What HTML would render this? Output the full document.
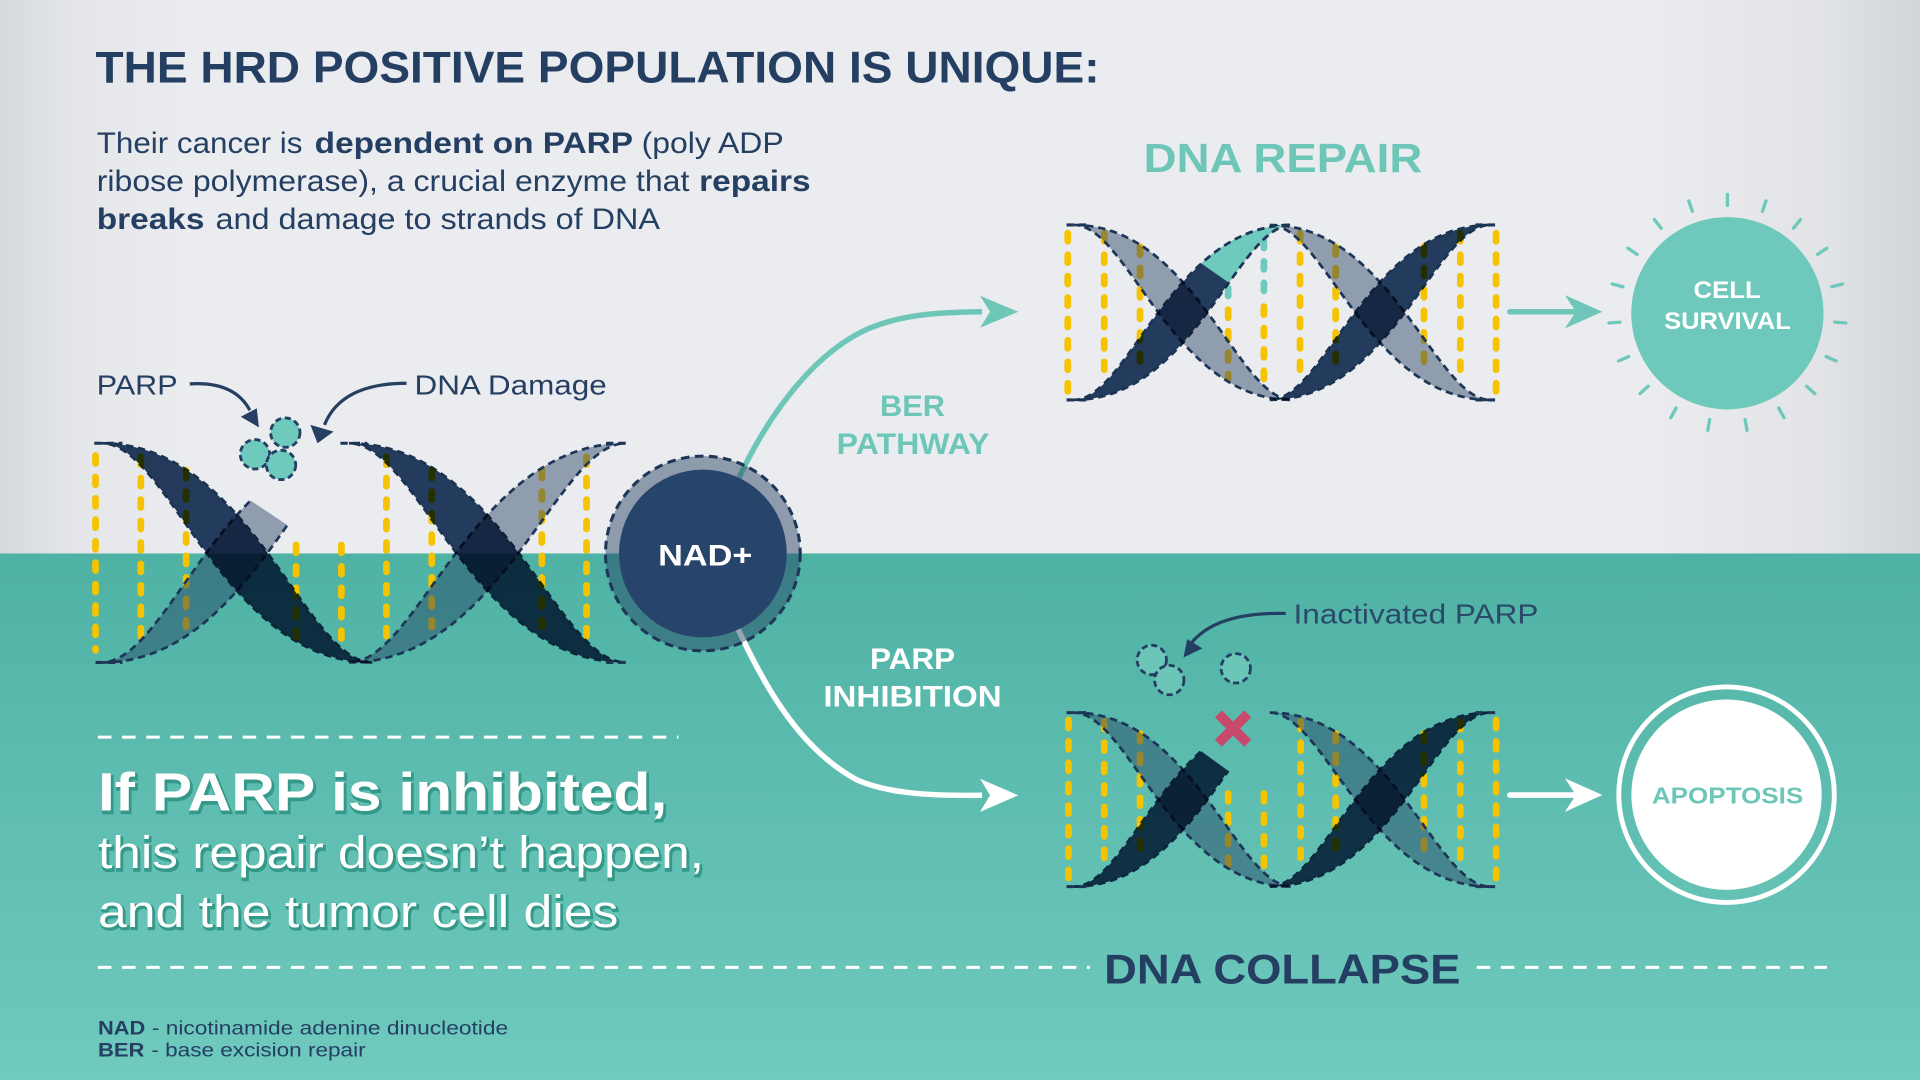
<!DOCTYPE html>
<html>
<head>
<meta charset="utf-8">
<style>
html,body{margin:0;padding:0;background:#eaecef;}
svg{display:block;}
text{font-family:"Liberation Sans",Arial,sans-serif;}
.rung{stroke:#f5c300;stroke-width:5.5;stroke-linecap:round;stroke-dasharray:6.5 11;fill:none;}
.dk{fill:#263f62;mix-blend-mode:multiply;stroke:#1d3657;stroke-width:2.2;stroke-dasharray:6 4;}
.lt{fill:rgba(36,63,98,0.46);stroke:#1d3657;stroke-width:2.2;stroke-dasharray:6 4;}
.dl{stroke:#1d3657;stroke-width:2.5;stroke-dasharray:6 4;fill:none;}
.pc{fill:#6ecabd;stroke:#253f63;stroke-width:2.3;stroke-dasharray:5 3;}
.ray{stroke:#6ec8bb;stroke-width:2.7;stroke-linecap:round;}
</style>
</head>
<body>
<svg xmlns="http://www.w3.org/2000/svg" width="1920" height="1080" viewBox="0 0 1568 882" preserveAspectRatio="none">
<defs>
<linearGradient id="gt" x1="0" x2="1" y1="0" y2="0">
<stop offset="0" stop-color="#d6d9dd"/>
<stop offset="0.04" stop-color="#e4e6e9"/>
<stop offset="0.1" stop-color="#eaecef"/>
<stop offset="0.86" stop-color="#eaecef"/>
<stop offset="0.95" stop-color="#e1e3e6"/>
<stop offset="1" stop-color="#d2d5d9"/>
</linearGradient>
<linearGradient id="gb" x1="0" x2="0" y1="0" y2="1">
<stop offset="0" stop-color="#4eb2a4"/>
<stop offset="1" stop-color="#70cabe"/>
</linearGradient>
<clipPath id="cut1"><polygon points="0,272.3 600,672.5 600,900 0,900"/></clipPath>
<clipPath id="tealc"><polygon points="850,123.4 1250,403.4 1250,0 850,0"/></clipPath>
<clipPath id="cut2"><polygon points="850,518.4 1250,808.8 1250,900 850,900"/></clipPath>
</defs>

<!-- backgrounds -->
<rect x="0" y="0" width="1568" height="452" fill="url(#gt)"/>
<rect x="0" y="452" width="1568" height="430" fill="url(#gb)"/>

<!-- Title -->
<text x="78" y="67.5" font-size="36" font-weight="bold" fill="#253f63" textLength="820" lengthAdjust="spacingAndGlyphs">THE HRD POSITIVE POPULATION IS UNIQUE:</text>

<!-- Paragraph -->
<g font-size="24" fill="#253f63">
<text x="79" y="125" textLength="168" lengthAdjust="spacingAndGlyphs">Their cancer is</text>
<text x="257" y="125" font-weight="bold" textLength="260" lengthAdjust="spacingAndGlyphs">dependent on PARP</text>
<text x="524" y="125" textLength="116" lengthAdjust="spacingAndGlyphs">(poly ADP</text>
<text x="79" y="156" textLength="484" lengthAdjust="spacingAndGlyphs">ribose polymerase), a crucial enzyme that</text>
<text x="571" y="156" font-weight="bold" textLength="91" lengthAdjust="spacingAndGlyphs">repairs</text>
<text x="79" y="187" font-weight="bold" textLength="88" lengthAdjust="spacingAndGlyphs">breaks</text>
<text x="176" y="187" textLength="363" lengthAdjust="spacingAndGlyphs">and damage to strands of DNA</text>
</g>

<!-- PARP / DNA Damage labels -->
<text x="79" y="322" font-size="23" fill="#253f63" textLength="66" lengthAdjust="spacingAndGlyphs">PARP</text>
<text x="338.5" y="322" font-size="23" fill="#253f63" textLength="157" lengthAdjust="spacingAndGlyphs">DNA Damage</text>
<path d="M155,313.5 C180,312 196,320 204,335" fill="none" stroke="#253f63" stroke-width="2.6"/>
<polygon points="211.5,349 196.6,340.3 209.7,333.5" fill="#253f63"/>
<path d="M332,313 C300,313 275,322 265,347" fill="none" stroke="#253f63" stroke-width="2.6"/>
<polygon points="259.3,362 253.5,347 272.4,352.5" fill="#253f63"/>
<circle class="pc" cx="233" cy="353.3" r="12"/>
<circle class="pc" cx="208.2" cy="371" r="12"/>
<circle class="pc" cx="229.5" cy="379.7" r="12"/>

<!-- LEFT DNA -->
<g>
<line class="rung" x1="78" y1="372" x2="78" y2="531"/>
<line class="rung" x1="115" y1="373" x2="115" y2="521"/>
<line class="rung" x1="152" y1="384" x2="152" y2="512"/>
<line class="rung" x1="241.8" y1="445" x2="241.8" y2="520"/>
<line class="rung" x1="278.8" y1="445" x2="278.8" y2="528"/>
<line class="rung" x1="315.6" y1="373" x2="315.6" y2="521"/>
<line class="rung" x1="352.6" y1="384" x2="352.6" y2="512"/>
<line class="rung" x1="442.5" y1="384" x2="442.5" y2="512"/>
<line class="rung" x1="479" y1="373" x2="479" y2="521"/>

<path class="lt" clip-path="url(#cut1)" d="M83,541 C204.6,541 248.8,362 304,362 C182.5,362 138.3,541 83,541 Z"/>
<path class="lt" d="M285,541 C409.3,541 454.5,362 511,362 C386.7,362 341.5,541 285,541 Z"/>
<path class="dk" d="M83,362 C204.6,362 248.8,541 304,541 C182.5,541 138.3,362 83,362 Z"/>
<path class="dk" d="M285,362 C409.3,362 454.5,541 511,541 C386.7,541 341.5,362 285,362 Z"/>

<path class="dl" d="M77,362 H100 M278,362 H300 M495,362 H515 M78,541 H100 M495,541 H515"/>
</g>

<!-- Arrows from NAD -->
<path d="M600,398 C622,348 660,290 710,268 C735,258 760,255 802,254.6" fill="none" stroke="#6ec6b8" stroke-width="4.5"/>
<polygon points="831.6,254.6 800.4,241.5 808.5,254.6 800.4,267.7" fill="#6ec6b8"/>
<path d="M600,508 C622,555 650,610 700,637 C725,648 760,650 802,649.5" fill="none" stroke="#ffffff" stroke-width="4.5"/>
<polygon points="831.6,649.5 800.4,636 808.5,649.5 800.4,663" fill="#ffffff"/>

<!-- NAD+ circle -->
<circle cx="574" cy="452" r="79.5" fill="rgba(36,63,98,0.47)" stroke="#1d3657" stroke-width="2.5" stroke-dasharray="7 4.5"/>
<circle cx="574" cy="452" r="68.5" fill="#27446a"/>
<text x="537.5" y="461.7" font-size="24" font-weight="bold" fill="#ffffff" textLength="77" lengthAdjust="spacingAndGlyphs">NAD+</text>

<!-- BER PATHWAY / PARP INHIBITION -->
<g font-size="24" font-weight="bold">
<text x="718.7" y="339.8" fill="#6ec6b8" textLength="53" lengthAdjust="spacingAndGlyphs">BER</text>
<text x="683.3" y="370.7" fill="#6ec6b8" textLength="124.7" lengthAdjust="spacingAndGlyphs">PATHWAY</text>
<text x="710.5" y="546.3" fill="#ffffff" textLength="69.5" lengthAdjust="spacingAndGlyphs">PARP</text>
<text x="672.4" y="577" fill="#ffffff" textLength="145.6" lengthAdjust="spacingAndGlyphs">INHIBITION</text>
</g>

<!-- DNA REPAIR -->
<text x="934" y="140.6" font-size="33" font-weight="bold" fill="#6ec6b8" textLength="227.5" lengthAdjust="spacingAndGlyphs">DNA REPAIR</text>

<!-- TOP RIGHT DNA -->
<g>
<line class="rung" x1="872" y1="190.5" x2="872" y2="319.8"/>
<line class="rung" x1="901.8" y1="190.5" x2="901.8" y2="311.6"/>
<line class="rung" x1="931" y1="201.4" x2="931" y2="303.5"/>
<line class="rung" x1="1003" y1="253" x2="1003" y2="309"/>
<line class="rung" x1="1032.2" y1="250.4" x2="1032.2" y2="314.4"/>
<line class="rung" style="stroke:#6ecabd" x1="1003" y1="217.7" x2="1003" y2="245"/>
<line class="rung" style="stroke:#6ecabd" x1="1032.2" y1="196" x2="1032.2" y2="243.6"/>
<line class="rung" x1="1061.7" y1="190.5" x2="1061.7" y2="311.6"/>
<line class="rung" x1="1090.8" y1="201.4" x2="1090.8" y2="303.5"/>
<line class="rung" x1="1162.9" y1="201.4" x2="1162.9" y2="303.5"/>
<line class="rung" x1="1192.6" y1="190.5" x2="1192.6" y2="311.6"/>
<line class="rung" x1="1221.8" y1="190.5" x2="1221.8" y2="319.8"/>

<path class="lt" d="M877,183.7 C974.9,183.7 1010.5,326.6 1055,326.6 C957.1,326.6 921.5,183.7 877,183.7 Z"/>
<path class="lt" d="M1037,183.7 C1136,183.7 1172,326.6 1217,326.6 C1118,326.6 1082,183.7 1037,183.7 Z"/>
<path class="dk" d="M877,326.6 C974.9,326.6 1010.5,183.7 1055,183.7 C957.1,183.7 921.5,326.6 877,326.6 Z"/>
<path class="dk" d="M1037,326.6 C1136,326.6 1172,183.7 1217,183.7 C1118,183.7 1082,326.6 1037,326.6 Z"/>
<path clip-path="url(#tealc)" d="M877,326.6 C974.9,326.6 1010.5,183.7 1055,183.7 C957.1,183.7 921.5,326.6 877,326.6 Z" fill="#6ecabd" stroke="#1d3657" stroke-width="2.2" stroke-dasharray="6 4"/>

<path class="dl" d="M871,183.7 H890 M1205,183.7 H1223 M871,326.6 H890 M1205,326.6 H1223"/>
</g>

<!-- Arrow to CELL SURVIVAL -->
<line x1="1233" y1="254.6" x2="1290" y2="254.6" stroke="#6ec6b8" stroke-width="4.5" stroke-linecap="round"/>
<polygon points="1308.6,254.6 1278,241 1287,254.6 1278,268.2" fill="#6ec6b8"/>

<!-- CELL SURVIVAL -->
<circle cx="1410.7" cy="255.8" r="78.5" fill="#6ec8bb"/>
<g class="ray">
<line class="ray" x1="1410.7" y1="167.8" x2="1410.7" y2="158.8"/>
<line class="ray" x1="1439.3" y1="172.6" x2="1442.2" y2="164.1"/>
<line class="ray" x1="1464.7" y1="186.4" x2="1470.3" y2="179.3"/>
<line class="ray" x1="1484.4" y1="207.7" x2="1491.9" y2="202.7"/>
<line class="ray" x1="1496.0" y1="234.2" x2="1504.7" y2="232.0"/>
<line class="ray" x1="1498.4" y1="263.1" x2="1507.4" y2="263.8"/>
<line class="ray" x1="1491.3" y1="291.2" x2="1499.5" y2="294.8"/>
<line class="ray" x1="1475.4" y1="315.4" x2="1482.1" y2="321.5"/>
<line class="ray" x1="1452.6" y1="333.2" x2="1456.9" y2="341.1"/>
<line class="ray" x1="1425.2" y1="342.6" x2="1426.7" y2="351.5"/>
<line class="ray" x1="1396.2" y1="342.6" x2="1394.7" y2="351.5"/>
<line class="ray" x1="1368.8" y1="333.2" x2="1364.5" y2="341.1"/>
<line class="ray" x1="1346.0" y1="315.4" x2="1339.3" y2="321.5"/>
<line class="ray" x1="1330.1" y1="291.2" x2="1321.9" y2="294.8"/>
<line class="ray" x1="1323.0" y1="263.1" x2="1314.0" y2="263.8"/>
<line class="ray" x1="1325.4" y1="234.2" x2="1316.7" y2="232.0"/>
<line class="ray" x1="1337.0" y1="207.7" x2="1329.5" y2="202.7"/>
<line class="ray" x1="1356.7" y1="186.4" x2="1351.1" y2="179.3"/>
<line class="ray" x1="1382.1" y1="172.6" x2="1379.2" y2="164.1"/>
</g>
<text x="1383" y="243.2" font-size="20" font-weight="bold" fill="#ffffff" textLength="55" lengthAdjust="spacingAndGlyphs">CELL</text>
<text x="1359" y="268.6" font-size="20" font-weight="bold" fill="#ffffff" textLength="103.5" lengthAdjust="spacingAndGlyphs">SURVIVAL</text>

<!-- Inactivated PARP -->
<text x="1056.4" y="509" font-size="23" fill="#2b4a6b" textLength="200" lengthAdjust="spacingAndGlyphs">Inactivated PARP</text>
<path d="M1050,501 C1012,500 987,508 973,525" fill="none" stroke="#253f63" stroke-width="2.6"/>
<polygon points="966.5,537 969.5,522 982,529.5" fill="#253f63"/>
<circle class="pc" style="fill:#6cc6b8" cx="940.6" cy="539" r="12"/>
<circle class="pc" style="fill:#6cc6b8" cx="954.9" cy="555.4" r="12"/>
<circle class="pc" style="fill:#6cc6b8" cx="1009.2" cy="545.8" r="12"/>

<!-- BOTTOM RIGHT DNA -->
<g>
<line class="rung" x1="872.6" y1="588" x2="872.6" y2="717.3"/>
<line class="rung" x1="901.8" y1="589" x2="901.8" y2="709"/>
<line class="rung" x1="931" y1="599" x2="931" y2="701"/>
<line class="rung" x1="1003" y1="648" x2="1003" y2="706.4"/>
<line class="rung" x1="1032.2" y1="648" x2="1032.2" y2="713"/>
<line class="rung" x1="1062.2" y1="589" x2="1062.2" y2="709"/>
<line class="rung" x1="1090.8" y1="599" x2="1090.8" y2="701"/>
<line class="rung" x1="1162.9" y1="599" x2="1162.9" y2="701"/>
<line class="rung" x1="1192.6" y1="589" x2="1192.6" y2="709"/>
<line class="rung" x1="1221.8" y1="588" x2="1221.8" y2="717.3"/>

<path class="lt" d="M877,582 C974.9,582 1010.5,724.1 1055,724.1 C957.1,724.1 921.5,582 877,582 Z"/>
<path class="lt" d="M1037,582 C1136,582 1172,724.1 1217,724.1 C1118,724.1 1082,582 1037,582 Z"/>
<path class="dk" clip-path="url(#cut2)" d="M877,724.1 C974.9,724.1 1010.5,582 1055,582 C957.1,582 921.5,724.1 877,724.1 Z"/>
<path class="dk" d="M1037,724.1 C1136,724.1 1172,582 1217,582 C1118,582 1082,724.1 1037,724.1 Z"/>

<path class="dl" d="M871,582 H890 M1205,582 H1223 M871,724.1 H890 M1205,724.1 H1223"/>
</g>

<!-- red X -->
<line x1="995" y1="583" x2="1019" y2="607" stroke="#c8496b" stroke-width="8"/>
<line x1="1019" y1="583" x2="995" y2="607" stroke="#c8496b" stroke-width="8"/>

<!-- Arrow to APOPTOSIS -->
<line x1="1233" y1="649.3" x2="1290" y2="649.3" stroke="#ffffff" stroke-width="4.5" stroke-linecap="round"/>
<polygon points="1308.6,649.3 1278,635.6 1287,649.3 1278,663" fill="#ffffff"/>

<!-- APOPTOSIS -->
<circle cx="1410" cy="649" r="88" fill="none" stroke="#ffffff" stroke-width="4"/>
<circle cx="1410" cy="649" r="77.7" fill="#ffffff"/>
<text x="1349" y="656" font-size="19" font-weight="bold" fill="#6ec6b8" textLength="123.6" lengthAdjust="spacingAndGlyphs">APOPTOSIS</text>

<!-- dashed separators -->
<line x1="80" y1="602" x2="554" y2="602" stroke="#ffffff" stroke-width="2.5" stroke-dasharray="11 8.7"/>
<line x1="80" y1="790" x2="890" y2="790" stroke="#ffffff" stroke-width="2.5" stroke-dasharray="11 8.7"/>
<line x1="1206" y1="790" x2="1492" y2="790" stroke="#ffffff" stroke-width="2.5" stroke-dasharray="11 8.7"/>

<!-- DNA COLLAPSE -->
<text x="901.7" y="803" font-size="34" font-weight="bold" fill="#253f63" textLength="291" lengthAdjust="spacingAndGlyphs">DNA COLLAPSE</text>

<!-- Big statement (shadow copies) -->
<g fill="#35998a" stroke="#35998a" stroke-width="2" transform="translate(1.2,1.8)">
<text x="80" y="662" font-size="44" font-weight="bold" textLength="465" lengthAdjust="spacingAndGlyphs">If PARP is inhibited,</text>
<text x="80" y="709" font-size="37" textLength="495" lengthAdjust="spacingAndGlyphs">this repair doesn’t happen,</text>
<text x="80" y="757" font-size="37" textLength="425" lengthAdjust="spacingAndGlyphs">and the tumor cell dies</text>
</g>
<g fill="#ffffff">
<text x="80" y="662" font-size="44" font-weight="bold" textLength="465" lengthAdjust="spacingAndGlyphs">If PARP is inhibited,</text>
<text x="80" y="709" font-size="37" textLength="495" lengthAdjust="spacingAndGlyphs">this repair doesn’t happen,</text>
<text x="80" y="757" font-size="37" textLength="425" lengthAdjust="spacingAndGlyphs">and the tumor cell dies</text>
</g>

<!-- Footnotes -->
<g font-size="15.5" fill="#253f63">
<text x="80" y="845" font-weight="bold" textLength="38.6" lengthAdjust="spacingAndGlyphs">NAD</text>
<text x="124" y="845" textLength="291" lengthAdjust="spacingAndGlyphs">- nicotinamide adenine dinucleotide</text>
<text x="80" y="863" font-weight="bold" textLength="38" lengthAdjust="spacingAndGlyphs">BER</text>
<text x="123.6" y="863" textLength="175" lengthAdjust="spacingAndGlyphs">- base excision repair</text>
</g>
</svg>
</body>
</html>
